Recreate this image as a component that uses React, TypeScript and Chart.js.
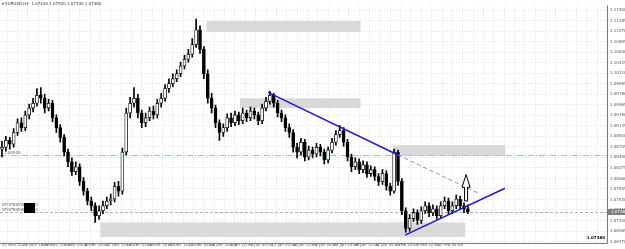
import React, { useEffect, useRef } from 'react';
import { Chart, registerables } from 'chart.js';

Chart.register(...registerables);

const symbolTitle = 'EURUSD,H4';
const barsPerCandle = 3;

const dateLabels = [
  '21 Nov 2023', '24 Nov 16:00', '29 Nov 12:00', '4 Dec 04:00', '6 Dec 20:00', '11 Dec 12:00',
  '14 Dec 04:00', '18 Dec 20:00', '21 Dec 12:00', '27 Dec 04:00', '29 Dec 20:00', '4 Jan 12:00',
  '9 Jan 04:00', '11 Jan 20:00', '16 Jan 12:00', '19 Jan 04:00', '23 Jan 20:00', '26 Jan 12:00',
  '31 Jan 04:00', '2 Feb 20:00', '7 Feb 12:00', '12 Feb 04:00',
];

const priceTicks = [
  1.115, 1.11285, 1.1107, 1.10855, 1.1064, 1.10425, 1.1021, 1.09995, 1.0978, 1.09565, 1.0935, 1.09135,
  1.0892, 1.08705, 1.0849, 1.08275, 1.0806, 1.07845, 1.0763, 1.07415, 1.072, 1.06985, 1.0677,
];

const opens = [
  1.0866, 1.0870, 1.0884, 1.0876, 1.0900, 1.0920, 1.0910, 1.0936, 1.0950, 1.0960, 1.0976, 1.0970,
  1.0950, 1.0960, 1.0930, 1.0910, 1.0890, 1.0860, 1.0840, 1.0820, 1.0830, 1.0800, 1.0780, 1.0760,
  1.0750, 1.0730, 1.0740, 1.0750, 1.0760, 1.0764, 1.0790, 1.0780, 1.0860, 1.0940, 1.0960, 1.0970,
  1.0940, 1.0920, 1.0930, 1.0944, 1.0936, 1.0960, 1.0970, 1.0990, 1.1000, 1.1010, 1.1020, 1.1036,
  1.1050, 1.1060, 1.1080, 1.1110, 1.1070, 1.1020, 1.0970, 1.0950, 1.0920, 1.0900, 1.0910, 1.0930,
  1.0920, 1.0936, 1.0924, 1.0940, 1.0930, 1.0944, 1.0936, 1.0924, 1.0950, 1.0964, 1.0976, 1.0960,
  1.0940, 1.0930, 1.0910, 1.0900, 1.0870, 1.0860, 1.0880, 1.0850, 1.0864, 1.0856, 1.0870, 1.0860,
  1.0844, 1.0864, 1.0880, 1.0896, 1.0904, 1.0880, 1.0850, 1.0830, 1.0840, 1.0824, 1.0834, 1.0816,
  1.0824, 1.0810, 1.0800, 1.0816, 1.0790, 1.0780, 1.0860, 1.0800, 1.0740, 1.0704, 1.0724, 1.0736,
  1.0720, 1.0740, 1.0750, 1.0736, 1.0744, 1.0730, 1.0750, 1.0760, 1.0740, 1.0750, 1.0764, 1.0750,
  1.0744,
];
const highs = [
  1.0882, 1.0892, 1.0890, 1.0908, 1.0928, 1.0930, 1.0944, 1.0958, 1.0970, 1.0990, 1.0992, 1.0978,
  1.0968, 1.0966, 1.0936, 1.0916, 1.0896, 1.0866, 1.0848, 1.0840, 1.0836, 1.0808, 1.0786, 1.0768,
  1.0756, 1.0750, 1.0760, 1.0768, 1.0774, 1.0798, 1.0800, 1.0868, 1.0950, 1.0972, 1.0992, 1.0978,
  1.0946, 1.0940, 1.0952, 1.0954, 1.0968, 1.0980, 1.0998, 1.1010, 1.1020, 1.1028, 1.1044, 1.1058,
  1.1070, 1.1092, 1.1132, 1.1118, 1.1076, 1.1028, 1.0980, 1.0956, 1.0926, 1.0918, 1.0938, 1.0940,
  1.0944, 1.0942, 1.0950, 1.0946, 1.0952, 1.0950, 1.0942, 1.0958, 1.0972, 1.0984, 1.0980, 1.0966,
  1.0946, 1.0936, 1.0918, 1.0906, 1.0878, 1.0888, 1.0886, 1.0872, 1.0870, 1.0878, 1.0876, 1.0866,
  1.0870, 1.0888, 1.0904, 1.0914, 1.0910, 1.0886, 1.0856, 1.0848, 1.0846, 1.0842, 1.0840, 1.0832,
  1.0830, 1.0816, 1.0824, 1.0822, 1.0796, 1.0866, 1.0864, 1.0806, 1.0746, 1.0732, 1.0744, 1.0742,
  1.0748, 1.0758, 1.0756, 1.0752, 1.0750, 1.0758, 1.0768, 1.0766, 1.0758, 1.0772, 1.0770, 1.0756,
  1.0752,
];
const lows = [
  1.0850, 1.0862, 1.0866, 1.0870, 1.0894, 1.0902, 1.0904, 1.0928, 1.0942, 1.0954, 1.0960, 1.0940,
  1.0944, 1.0922, 1.0900, 1.0880, 1.0852, 1.0830, 1.0812, 1.0814, 1.0792, 1.0772, 1.0752, 1.0740,
  1.0716, 1.0722, 1.0734, 1.0744, 1.0752, 1.0758, 1.0770, 1.0774, 1.0854, 1.0930, 1.0952, 1.0930,
  1.0910, 1.0912, 1.0924, 1.0928, 1.0930, 1.0952, 1.0964, 1.0982, 1.0994, 1.1004, 1.1014, 1.1030,
  1.1044, 1.1054, 1.1074, 1.1062, 1.1010, 1.0960, 1.0940, 1.0910, 1.0884, 1.0892, 1.0902, 1.0912,
  1.0914, 1.0916, 1.0918, 1.0922, 1.0924, 1.0928, 1.0916, 1.0918, 1.0944, 1.0958, 1.0952, 1.0932,
  1.0922, 1.0902, 1.0890, 1.0860, 1.0848, 1.0854, 1.0842, 1.0844, 1.0848, 1.0850, 1.0852, 1.0836,
  1.0838, 1.0858, 1.0874, 1.0890, 1.0872, 1.0842, 1.0820, 1.0824, 1.0816, 1.0818, 1.0808, 1.0810,
  1.0802, 1.0792, 1.0794, 1.0782, 1.0772, 1.0776, 1.0792, 1.0732, 1.0696, 1.0698, 1.0718, 1.0712,
  1.0714, 1.0734, 1.0728, 1.0730, 1.0722, 1.0724, 1.0744, 1.0732, 1.0734, 1.0744, 1.0742, 1.0736,
  1.0734,
];
const closes = [
  1.0870, 1.0884, 1.0876, 1.0900, 1.0920, 1.0910, 1.0936, 1.0950, 1.0960, 1.0976, 1.0970, 1.0950,
  1.0960, 1.0930, 1.0910, 1.0890, 1.0860, 1.0840, 1.0820, 1.0830, 1.0800, 1.0780, 1.0760, 1.0750,
  1.0730, 1.0740, 1.0750, 1.0760, 1.0764, 1.0790, 1.0780, 1.0860, 1.0940, 1.0960, 1.0970, 1.0940,
  1.0920, 1.0930, 1.0944, 1.0936, 1.0960, 1.0970, 1.0990, 1.1000, 1.1010, 1.1020, 1.1036, 1.1050,
  1.1060, 1.1080, 1.1110, 1.1070, 1.1020, 1.0970, 1.0950, 1.0920, 1.0900, 1.0910, 1.0930, 1.0920,
  1.0936, 1.0924, 1.0940, 1.0930, 1.0944, 1.0936, 1.0924, 1.0950, 1.0964, 1.0976, 1.0960, 1.0940,
  1.0930, 1.0910, 1.0900, 1.0870, 1.0860, 1.0880, 1.0850, 1.0864, 1.0856, 1.0870, 1.0860, 1.0844,
  1.0864, 1.0880, 1.0896, 1.0904, 1.0880, 1.0850, 1.0830, 1.0840, 1.0824, 1.0834, 1.0816, 1.0824,
  1.0810, 1.0800, 1.0816, 1.0790, 1.0780, 1.0860, 1.0800, 1.0740, 1.0704, 1.0724, 1.0736, 1.0720,
  1.0740, 1.0750, 1.0736, 1.0744, 1.0730, 1.0750, 1.0760, 1.0740, 1.0750, 1.0764, 1.0750, 1.0744,
  1.0738,
];

// zones (x in H4 bar index, y in price)
const zoneStart = [158, 184, 302, 76];
const zoneEnd = [277, 277, 389, 358];
const zoneTop = [1.1128, 1.097, 1.0874, 1.0716];
const zoneBottom = [1.1106, 1.095, 1.0852, 1.0686];

const resistanceX = [205.6, 306];
const resistanceY = [1.0982, 1.0854];
const resistanceExtX = [306, 368];
const resistanceExtY = [1.0854, 1.0776];
const supportX = [311.4, 388.7];
const supportY = [1.069, 1.0786];

const arrowX = 358.6;
const arrowBase = 1.076;
const arrowNeck = 1.0788;
const arrowTip = 1.0814;

const levelPrice = 1.0854;

const FONT = '"DejaVu Sans", sans-serif';

export default function App() {
  const ref = useRef<HTMLCanvasElement>(null);

  useEffect(() => {
    document.body.style.margin = '0';
    const canvas = ref.current;
    if (!canvas) return;
    const n = closes.length;
    const xs = closes.map((_, i) => i * barsPerCandle);
    const bodies = xs.map((x, i) => ({
      x,
      y: [opens[i], closes[i] === opens[i] ? closes[i] + 0.00004 : closes[i]],
    }));
    const wicks = xs.map((x, i) => ({ x, y: [lows[i], highs[i]] }));
    const bodyColors = closes.map((c, i) => (c >= opens[i] ? '#ffffff' : '#000000'));
    const lastClose = closes[n - 1];

    const overlay = {
      id: 'overlay',
      beforeDatasetsDraw(chart: any) {
        const { ctx, chartArea, scales } = chart;
        const x = scales.x;
        const y = scales.y;
        ctx.save();
        ctx.beginPath();
        ctx.rect(chartArea.left, chartArea.top, chartArea.right - chartArea.left, chartArea.bottom - chartArea.top);
        ctx.clip();
        ctx.fillStyle = '#d9d9d9';
        zoneStart.forEach((s, i) => {
          const x0 = x.getPixelForValue(s);
          const x1 = x.getPixelForValue(zoneEnd[i]);
          const y0 = y.getPixelForValue(zoneTop[i]);
          const y1 = y.getPixelForValue(zoneBottom[i]);
          ctx.fillRect(x0, y0, x1 - x0, y1 - y0);
        });
        // level line
        const ly = Math.round(y.getPixelForValue(levelPrice)) + 0.5;
        ctx.strokeStyle = '#f0a890';
        ctx.lineWidth = 1;
        ctx.setLineDash([6, 2, 1, 2]);
        ctx.beginPath();
        ctx.moveTo(chartArea.left, ly);
        ctx.lineTo(chartArea.right, ly);
        ctx.stroke();
        // bid line
        const by = Math.round(y.getPixelForValue(lastClose)) + 0.5;
        ctx.strokeStyle = '#b0b0b0';
        ctx.setLineDash([3, 2]);
        ctx.beginPath();
        ctx.moveTo(chartArea.left, by);
        ctx.lineTo(chartArea.right, by);
        ctx.stroke();
        ctx.setLineDash([]);
        ctx.restore();
      },
      afterDatasetsDraw(chart: any) {
        const { ctx, chartArea, scales } = chart;
        const x = scales.x;
        const y = scales.y;
        ctx.save();
        // arrow
        const ax = x.getPixelForValue(arrowX);
        const yb = y.getPixelForValue(arrowBase);
        const yn = y.getPixelForValue(arrowNeck);
        const yt = y.getPixelForValue(arrowTip);
        ctx.beginPath();
        ctx.moveTo(ax - 1.5, yb);
        ctx.lineTo(ax - 1.5, yn);
        ctx.lineTo(ax - 4, yn);
        ctx.lineTo(ax, yt);
        ctx.lineTo(ax + 4, yn);
        ctx.lineTo(ax + 1.5, yn);
        ctx.lineTo(ax + 1.5, yb);
        ctx.closePath();
        ctx.fillStyle = '#ffffff';
        ctx.fill();
        ctx.strokeStyle = '#000000';
        ctx.lineWidth = 1;
        ctx.stroke();

        // frame
        ctx.strokeStyle = '#7a7a7a';
        ctx.beginPath();
        ctx.moveTo(chartArea.right + 0.5, chartArea.top);
        ctx.lineTo(chartArea.right + 0.5, chartArea.bottom + 0.5);
        ctx.lineTo(chartArea.left, chartArea.bottom + 0.5);
        ctx.stroke();

        // bid label
        const by = Math.round(y.getPixelForValue(lastClose));
        ctx.fillStyle = '#7d7d7d';
        ctx.fillRect(chartArea.right + 1, by - 3, 18, 6);
        ctx.fillStyle = '#ffffff';
        ctx.font = `4px ${FONT}`;
        ctx.textBaseline = 'middle';
        ctx.textAlign = 'left';
        ctx.fillText(lastClose.toFixed(5), chartArea.right + 4, by);

        // title
        ctx.fillStyle = '#333333';
        ctx.textBaseline = 'middle';
        ctx.fillText(
          `\u25BE ${symbolTitle}  ${opens[n - 1].toFixed(5)} ${highs[n - 1].toFixed(5)} ${lows[n - 1].toFixed(5)} ${closes[n - 1].toFixed(5)}`,
          2,
          4
        );
        // level label
        ctx.fillStyle = '#666666';
        ctx.fillText(levelPrice.toFixed(5), 4, y.getPixelForValue(levelPrice) - 2);

        // info box
        ctx.fillStyle = '#666666';
        ctx.fillText('STOPNSEWEN 0.0', 2, 205);
        ctx.fillText('STOPNSEWEN 0.0', 2, 210);
        ctx.fillStyle = '#000000';
        ctx.fillRect(24, 203, 11, 10);

        // bottom-right value
        ctx.fillStyle = '#000000';
        ctx.font = `bold 4px ${FONT}`;
        ctx.textAlign = 'right';
        ctx.fillText(lastClose.toFixed(5), chartArea.right - 2, chartArea.bottom - 5);
        ctx.restore();
      },
    };

    const chart = new Chart(canvas, {
      type: 'bar',
      data: {
        datasets: [
          {
            type: 'line',
            data: resistanceX.map((v, i) => ({ x: v, y: resistanceY[i] })),
            borderColor: '#1a1ad0',
            borderWidth: 1.5,
            pointRadius: 0,
            order: -2,
          } as any,
          {
            type: 'line',
            data: resistanceExtX.map((v, i) => ({ x: v, y: resistanceExtY[i] })),
            borderColor: '#8a8ae6',
            borderWidth: 1,
            borderDash: [4, 3],
            pointRadius: 0,
            order: -2,
          } as any,
          {
            type: 'line',
            data: supportX.map((v, i) => ({ x: v, y: supportY[i] })),
            borderColor: '#1a1ad0',
            borderWidth: 1.5,
            pointRadius: 0,
            order: -2,
          } as any,
          {
            type: 'bar',
            data: bodies as any,
            backgroundColor: bodyColors,
            borderColor: '#000000',
            borderWidth: 0.8,
            borderSkipped: false,
            barThickness: 3,
            grouped: false,
            order: 0,
          } as any,
          {
            type: 'bar',
            data: wicks as any,
            backgroundColor: '#000000',
            barThickness: 1,
            grouped: false,
            order: 1,
          } as any,
        ],
      },
      options: {
        animation: false,
        responsive: false,
        events: [],
        layout: { padding: 0 },
        plugins: { legend: { display: false }, tooltip: { enabled: false } },
        scales: {
          x: {
            type: 'linear',
            min: -1.55,
            max: 467.5,
            offset: false,
            afterBuildTicks: (scale: any) => {
              const t = [];
              for (let v = 0; v <= 464; v += 8) t.push({ value: v });
              scale.ticks = t;
            },
            afterFit: (scale: any) => {
              scale.height = 6;
            },
            ticks: {
              autoSkip: false,
              maxRotation: 0,
              minRotation: 0,
              align: 'start',
              padding: 0,
              color: '#555555',
              font: { size: 4, family: FONT },
              callback: (v: any) => {
                const k = Number(v) / 16;
                return Number.isInteger(k) && k < dateLabels.length ? dateLabels[k] : '';
              },
            },
            grid: { color: '#dedede', drawTicks: false },
            border: { display: false, dash: [1, 2] },
          },
          y: {
            type: 'linear',
            position: 'right',
            min: 1.0674,
            max: 1.116,
            afterBuildTicks: (scale: any) => {
              scale.ticks = priceTicks.map((v) => ({ value: v }));
            },
            afterFit: (scale: any) => {
              scale.width = 18;
            },
            ticks: {
              autoSkip: false,
              padding: 3,
              color: '#555555',
              font: { size: 4, family: FONT },
              callback: (v: any) => Number(v).toFixed(5),
            },
            grid: { color: '#dedede', drawTicks: false },
            border: { display: false, dash: [1, 2] },
          },
        },
      },
      plugins: [overlay],
    } as any);

    return () => chart.destroy();
  }, []);

  return <canvas ref={ref} width={625} height={249} style={{ display: 'block' }} />;
}
